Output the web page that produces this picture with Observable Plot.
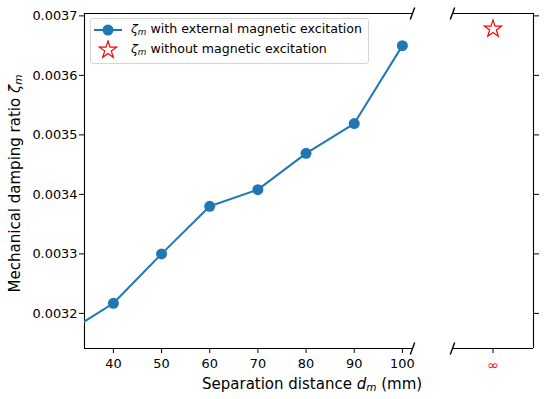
<!DOCTYPE html>
<html>
<head>
<meta charset="utf-8">
<script src="https://cdn.jsdelivr.net/npm/d3@7"></script>
<script src="https://cdn.jsdelivr.net/npm/@observablehq/plot@0.6"></script>
<style>
  html, body { margin: 0; padding: 0; background: #fff; }
  body { font-family: "DejaVu Sans", sans-serif; }
  #wrap { position: relative; width: 550px; height: 399px; overflow: hidden; font-family: "DejaVu Sans", sans-serif; }
  #wrap > svg { position: absolute; top: 0; }
  .lbl { position: absolute; white-space: nowrap; font-size: 15px; line-height: 1; color: #000; font-family: "DejaVu Sans", sans-serif; }
  .it { font-style: italic; }
  .sub { font-style: italic; font-size: 0.7em; position: relative; top: 0.22em; }
  #legend { position: absolute; left: 90px; top: 18px; width: 277px; height: 44px;
            border: 1px solid #d5d5d5; border-radius: 3px; background: rgba(255,255,255,0.8); }
  .lrow { position: absolute; left: 0; height: 20px; width: 100%; font-size: 12.6px; font-family: "DejaVu Sans", sans-serif; }
  .lrow svg { position: absolute; left: 0; top: 0; }
  .lrow span.t { position: absolute; left: 40px; top: 3px; white-space: nowrap; line-height: 1; }
</style>
</head>
<body>
<div id="wrap"></div>
<script>
// ---- data ----
const distances = [30, 40, 50, 60, 70, 80, 90, 100];
const zetaWith = [0.003166, 0.003217, 0.0033, 0.00338, 0.003408, 0.003469, 0.003519, 0.00365];
const infPos = [1];
const infLabel = ["∞"];
const zetaWithout = [0.003678];
const xTicks = [40, 50, 60, 70, 80, 90, 100];
const yTicks = [0.0032, 0.0033, 0.0034, 0.0035, 0.0036, 0.0037];
const xDomain = [34, 102.1];
const xDomainRight = [0, 2];
const yDomain = [0.003141, 0.003704];

const rows = distances.map((d, i) => ({d, z: zetaWith[i]}));
const rowsInf = infPos.map((p, i) => ({p, z: zetaWithout[i], label: infLabel[i]}));

const slash = { draw(ctx) { ctx.moveTo(-2.2, 6); ctx.lineTo(2.2, -6); } };
const blue = "#1f77b4";
const baseStyle = { fontFamily: "'DejaVu Sans', sans-serif", fontSize: "12.9px", background: "transparent", overflow: "visible", color: "#000" };

const wrap = document.getElementById("wrap");

const left = Plot.plot({
  width: 420, height: 399,
  marginLeft: 84, marginRight: 8, marginTop: 13, marginBottom: 51,
  x: { domain: xDomain },
  y: { domain: yDomain },
  style: baseStyle,
  marks: [
    Plot.axisY({ ticks: yTicks, tickSize: 5, tickPadding: 2, tickFormat: d3.format(".4f"), label: null }),
    Plot.axisX({ ticks: xTicks, tickSize: 5, tickPadding: 5, tickFormat: d => String(d), label: null }),
    Plot.ruleX([xDomain[0]], { strokeWidth: 1.1 }),
    Plot.ruleY([yDomain[0], yDomain[1]], { strokeWidth: 1.1 }),
    Plot.line(rows, { x: "d", y: "z", stroke: blue, strokeWidth: 2, clip: true }),
    Plot.dot(rows, { x: "d", y: "z", r: 5.5, fill: blue, clip: true }),
    Plot.dot([yDomain[0], yDomain[1]], { x: () => xDomain[1], y: d => d, symbol: slash, stroke: "#000", strokeWidth: 1.4, fill: "none" })
  ]
});
left.style.left = "0px";
wrap.appendChild(left);

const right = Plot.plot({
  width: 130, height: 399,
  marginLeft: 32, marginRight: 17, marginTop: 13, marginBottom: 51,
  x: { domain: xDomainRight },
  y: { domain: yDomain },
  style: baseStyle,
  marks: [
    Plot.axisY({ anchor: "right", ticks: yTicks, tickSize: 5, tickFormat: () => "", label: null }),
    Plot.axisX({ ticks: infPos, tickSize: 5, tickFormat: () => "", label: null }),
    Plot.text(rowsInf, { x: "p", text: "label", frameAnchor: "bottom", dy: 17, fill: "red", fontSize: 14, lineAnchor: "middle" }),
    Plot.ruleX([xDomainRight[1]], { strokeWidth: 1.1 }),
    Plot.ruleY([yDomain[0], yDomain[1]], { strokeWidth: 1.1 }),
    Plot.dot(rowsInf, { x: "p", y: "z", symbol: "star", r: 5.4, stroke: "red", fill: "white", strokeWidth: 1.2 }),
    Plot.dot([yDomain[0], yDomain[1]], { x: () => xDomainRight[0], y: d => d, symbol: slash, stroke: "#000", strokeWidth: 1.4, fill: "none" })
  ]
});
right.style.left = "420px";
wrap.appendChild(right);

// ---- axis labels (HTML text) ----
const xl = document.createElement("div");
xl.className = "lbl";
xl.innerHTML = 'Separation distance <span class="it">d</span><span class="sub">m</span> (mm)';
wrap.appendChild(xl);
xl.style.left = (312 - xl.offsetWidth / 2) + "px";
xl.style.top = "377px";

const yl = document.createElement("div");
yl.className = "lbl";
yl.innerHTML = 'Mechanical damping ratio <span class="it">ζ</span><span class="sub">m</span>';
wrap.appendChild(yl);
yl.style.left = (16 - yl.offsetWidth / 2) + "px";
yl.style.top = (183 - yl.offsetHeight / 2) + "px";
yl.style.transform = "rotate(-90deg)";

// ---- legend ----
const starPath = d3.symbol(d3.symbolStar, Math.PI * 5.4 * 5.4)();
const lg = document.createElement("div");
lg.id = "legend";
lg.innerHTML = `
  <div class="lrow" style="top:1px">
    <svg width="40" height="20"><line x1="3" x2="31" y1="10" y2="10" stroke="${blue}" stroke-width="2"/><circle cx="17" cy="10" r="5.5" fill="${blue}"/></svg>
    <span class="t"><span class="it">ζ</span><span class="sub">m</span> with external magnetic excitation</span>
  </div>
  <div class="lrow" style="top:21px">
    <svg width="40" height="20"><path d="${starPath}" transform="translate(17,10)" fill="white" stroke="red" stroke-width="1.2"/></svg>
    <span class="t"><span class="it">ζ</span><span class="sub">m</span> without magnetic excitation</span>
  </div>`;
wrap.appendChild(lg);
</script>
</body>
</html>
